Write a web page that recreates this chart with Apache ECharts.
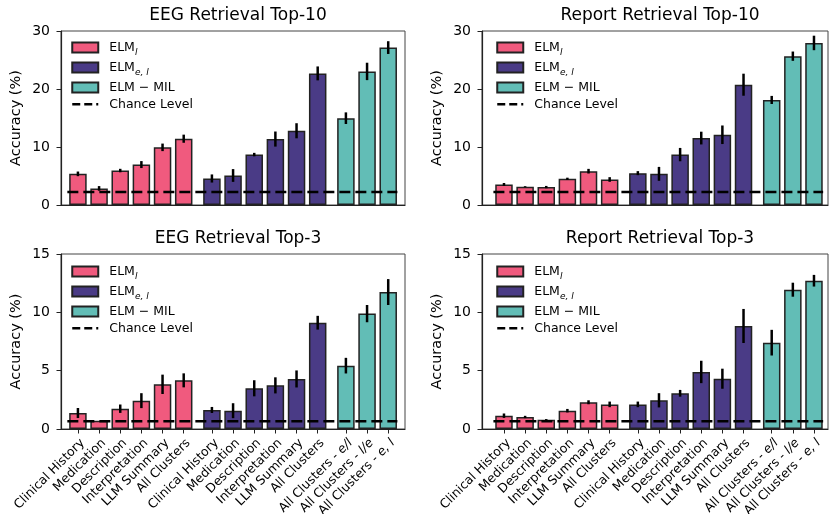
<!DOCTYPE html>
<html>
<head>
<meta charset="utf-8">
<script src="https://cdn.jsdelivr.net/npm/echarts@6/dist/echarts.min.js"></script>
<style>
html,body{margin:0;padding:0;background:#fff;}
#chart{width:830px;height:514px;}
</style>
</head>
<body>
<div id="chart"></div>
<script>
// ---------- DATA ----------
const textCategories = ['Clinical History', 'Medication', 'Description', 'Interpretation', 'LLM Summary', 'All Clusters'];
const milCategories = ['All Clusters - e/l', 'All Clusters - l/e', 'All Clusters - e, l'];
const seriesNames = ['ELM_l', 'ELM_el', 'ELM_MIL'];
const chanceName = 'Chance Level';

const titles = ['EEG Retrieval Top-10', 'Report Retrieval Top-10', 'EEG Retrieval Top-3', 'Report Retrieval Top-3'];
const yTicksTop10 = [0, 10, 20, 30];
const yTicksTop3 = [0, 5, 10, 15];
const chanceTop10 = 2.22;
const chanceTop3 = 0.667;

// EEG Retrieval Top-10
const eeg10_l = [5.37, 2.86, 5.94, 6.97, 9.94, 11.43];
const eeg10_l_err = [0.4, 0.4, 0.3, 0.6, 0.65, 0.7];
const eeg10_el = [4.57, 5.09, 8.69, 11.37, 12.8, 22.69];
const eeg10_el_err = [0.7, 1.1, 0.3, 1.3, 1.3, 1.2];
const eeg10_mil = [14.97, 23.03, 27.14];
const eeg10_mil_err = [1.0, 1.5, 1.1];

// Report Retrieval Top-10
const rep10_l = [3.54, 3.14, 3.09, 4.51, 5.83, 4.4];
const rep10_l_err = [0.25, 0.1, 0.2, 0.2, 0.4, 0.4];
const rep10_el = [5.49, 5.37, 8.69, 11.54, 12.11, 20.74];
const rep10_el_err = [0.35, 1.2, 1.15, 1.1, 1.6, 1.9];
const rep10_mil = [18.11, 25.66, 27.94];
const rep10_mil_err = [0.7, 0.8, 1.25];

// EEG Retrieval Top-3
const eeg3_l = [1.37, 0.71, 1.74, 2.43, 3.83, 4.17];
const eeg3_l_err = [0.43, 0.0, 0.36, 0.64, 0.83, 0.6];
const eeg3_el = [1.63, 1.57, 3.49, 3.74, 4.29, 9.11];
const eeg3_el_err = [0.26, 0.64, 0.69, 0.69, 0.73, 0.59];
const eeg3_mil = [5.43, 9.89, 11.74];
const eeg3_mil_err = [0.67, 0.74, 1.11];

// Report Retrieval Top-3
const rep3_l = [1.14, 1.03, 0.8, 1.57, 2.29, 2.11];
const rep3_l_err = [0.19, 0.1, 0.05, 0.15, 0.17, 0.24];
const rep3_el = [2.11, 2.46, 3.06, 4.89, 4.31, 8.83];
const rep3_el_err = [0.24, 0.61, 0.29, 0.96, 0.86, 1.46];
const rep3_mil = [7.4, 11.94, 12.71];
const rep3_mil_err = [1.1, 0.6, 0.5];

// ---------- LAYOUT / STYLE ----------
const colors = ['#F05A7E', '#4A3B86', '#62BDB6'];
const groupOffsets = [0, 6 + 1 / 3, 12 + 2 / 3];
const chanceSpan = [-0.5, 15.1];
const labelShift = 0.22; // rotated label anchor shift (matplotlib ha='right' bbox alignment)
const FONT = 'DejaVu Sans';

const panels = [
  { vals: [eeg10_l, eeg10_el, eeg10_mil], errs: [eeg10_l_err, eeg10_el_err, eeg10_mil_err], yTicks: yTicksTop10, chance: chanceTop10,
    grid: { left: 61, top: 31, width: 344, height: 174 }, xmin: -0.8, xmax: 15.46, showX: false, legend: { left: 71, top: 41 } },
  { vals: [rep10_l, rep10_el, rep10_mil], errs: [rep10_l_err, rep10_el_err, rep10_mil_err], yTicks: yTicksTop10, chance: chanceTop10,
    grid: { left: 482, top: 31, width: 346, height: 174 }, xmin: -1.04, xmax: 15.33, showX: false, legend: { left: 496, top: 41 } },
  { vals: [eeg3_l, eeg3_el, eeg3_mil], errs: [eeg3_l_err, eeg3_el_err, eeg3_mil_err], yTicks: yTicksTop3, chance: chanceTop3,
    grid: { left: 61, top: 254, width: 344, height: 175 }, xmin: -0.8, xmax: 15.46, showX: true, legend: { left: 71, top: 265 } },
  { vals: [rep3_l, rep3_el, rep3_mil], errs: [rep3_l_err, rep3_el_err, rep3_mil_err], yTicks: yTicksTop3, chance: chanceTop3,
    grid: { left: 482, top: 254, width: 346, height: 175 }, xmin: -1.04, xmax: 15.33, showX: true, legend: { left: 496, top: 265 } }
];

// positions & labels of all bars
const groupCats = [textCategories, textCategories, milCategories];
const allPositions = [];
const allLabels = [];
groupCats.forEach((cats, g) => cats.forEach((c, i) => { allPositions.push(groupOffsets[g] + i); allLabels.push(c); }));
const labelPositions = allPositions.map(v => v + labelShift);

function labelFor(v) {
  for (let i = 0; i < labelPositions.length; i++) {
    if (Math.abs(labelPositions[i] - v) < 1e-6) {
      const lab = allLabels[i];
      const m = lab.match(/^(All Clusters - )(.+)$/);
      if (m && milCategories.indexOf(lab) >= 0) return '{n|' + m[1] + '}{i|' + m[2] + '}';
      return '{n|' + lab + '}';
    }
  }
  return '';
}

const legendLabels = {
  'ELM_l': '{m|ELM}{s|l}',
  'ELM_el': '{m|ELM}{s|e, l}',
  'ELM_MIL': '{m|ELM − MIL}',
  'Chance Level': '{m|Chance Level}'
};

const option = {
  animation: false,
  backgroundColor: '#fff',
  textStyle: { fontFamily: FONT },
  title: [], grid: [], xAxis: [], yAxis: [], legend: [], series: []
};

panels.forEach((p, k) => {
  const g = p.grid;
  option.title.push({
    text: titles[k], left: g.left + g.width / 2, textAlign: 'center', top: g.top - 29,
    textStyle: { fontFamily: FONT, fontSize: 17, fontWeight: 'normal', color: '#000' }
  });
  option.grid.push({
    left: g.left, top: g.top, width: g.width, height: g.height, show: true,
    borderColor: '#444', borderWidth: 1, backgroundColor: 'transparent',
    containLabel: false, outerBoundsMode: 'none'
  });
  option.xAxis.push({
    type: 'value', gridIndex: k, min: p.xmin, max: p.xmax,
    splitLine: { show: false },
    axisLine: { show: true, onZero: false, lineStyle: { color: '#222', width: 1.2 } },
    axisTick: { show: p.showX, length: 4.5, lineStyle: { color: '#222', width: 1 }, customValues: allPositions },
    axisLabel: {
      show: p.showX, customValues: labelPositions, rotate: 45, margin: 12,
      formatter: v => labelFor(v),
      rich: {
        n: { fontFamily: FONT, fontSize: 12.5, color: '#000' },
        i: { fontFamily: FONT, fontSize: 12.5, color: '#000', fontStyle: 'italic' }
      }
    }
  });
  const yt = p.yTicks;
  option.yAxis.push({
    type: 'value', gridIndex: k, min: yt[0], max: yt[yt.length - 1], interval: yt[1] - yt[0],
    name: 'Accuracy (%)', nameLocation: 'middle', nameGap: 37,
    nameTextStyle: { fontFamily: FONT, fontSize: 14.5, color: '#000' },
    splitLine: { show: false },
    axisLine: { show: true, onZero: false, lineStyle: { color: '#222', width: 1.2 } },
    axisTick: { show: true, length: 4.5, lineStyle: { color: '#222', width: 1 } },
    axisLabel: { fontFamily: FONT, fontSize: 14, color: '#000', margin: 11 }
  });
  option.legend.push({
    orient: 'vertical', left: p.legend.left, top: p.legend.top, padding: 0,
    itemWidth: 26, itemHeight: 10, itemGap: 3.7,
    data: [
      { name: 'ELM_l', icon: 'rect' }, { name: 'ELM_el', icon: 'rect' }, { name: 'ELM_MIL', icon: 'rect' },
      { name: chanceName, itemStyle: { opacity: 0 }, lineStyle: { color: '#000', width: 2.5, type: [8, 4] } }
    ],
    formatter: name => legendLabels[name],
    textStyle: {
      fontFamily: FONT, fontSize: 12.5, color: '#000',
      rich: {
        m: { fontFamily: FONT, fontSize: 12.5, lineHeight: 19.7, color: '#000', padding: [0, 0, 0, 6] },
        s: { fontFamily: FONT, fontSize: 9, fontStyle: 'italic', lineHeight: 13, verticalAlign: 'bottom', color: '#000' }
      }
    }
  });
  // bars
  for (let gi = 0; gi < 3; gi++) {
    const data = p.vals[gi].map((v, i) => [groupOffsets[gi] + i, v]);
    option.series.push({
      type: 'bar', name: seriesNames[gi], xAxisIndex: k, yAxisIndex: k,
      data: data, barWidth: 17.5, barGap: '-100%',
      itemStyle: { color: colors[gi], borderColor: '#222', borderWidth: 1.5 },
      z: 2
    });
  }
  // error bars
  const errData = [];
  for (let gi = 0; gi < 3; gi++) {
    p.vals[gi].forEach((v, i) => errData.push([groupOffsets[gi] + i, v, p.errs[gi][i]]));
  }
  option.series.push({
    type: 'custom', name: 'err' + k, xAxisIndex: k, yAxisIndex: k, data: errData, z: 3,
    encode: { x: 0, y: 1 },
    renderItem: (params, api) => {
      const x = api.value(0), y = api.value(1), e = api.value(2);
      if (!e) return null;
      const a = api.coord([x, y - e]), b = api.coord([x, y + e]);
      return { type: 'line', shape: { x1: a[0], y1: a[1], x2: b[0], y2: b[1] }, style: { stroke: '#000', lineWidth: 2.5 } };
    }
  });
  // chance level
  option.series.push({
    type: 'line', name: chanceName, xAxisIndex: k, yAxisIndex: k,
    data: chanceSpan.map(x => [x, p.chance]), symbol: 'none', z: 4,
    lineStyle: { color: '#000', width: 2.5, type: [11, 5] },
    itemStyle: { color: '#000' }
  });
});

const chart = echarts.init(document.getElementById('chart'), null, { renderer: 'canvas' });
chart.setOption(option);
</script>
</body>
</html>
